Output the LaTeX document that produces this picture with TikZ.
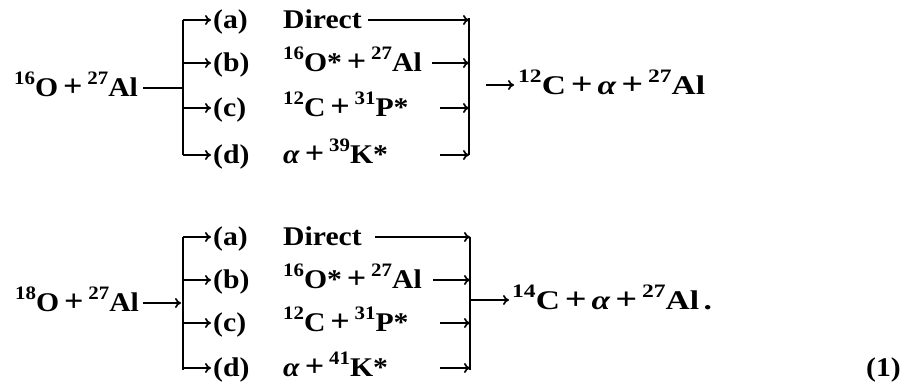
\documentclass[tikz,border=0pt]{standalone}
\usepackage{fontspec}
\setmainfont{Liberation Serif}[FakeStretch=1.1]
\newfontfamily\widefont{Liberation Serif}[FakeStretch=1.24]
\usetikzlibrary{arrows.meta}
\newcommand{\nuc}[2]{\raisebox{0.45em}{\fontsize{19}{19}\selectfont #1}#2}
\newcommand{\pl}{\hspace{0.18em}{\fontsize{31}{31}\selectfont +}\hspace{0.18em}}
\newcommand{\al}{\textit{α}}
\begin{document}
\begin{tikzpicture}[x=1pt,y=-1pt,
  every node/.style={font=\fontsize{27}{30}\selectfont\bfseries, inner sep=0pt, anchor=base west},
  prod/.style={font=\fontsize{27}{30}\selectfont\widefont\bfseries},
  conn/.style={line width=1.7pt},
  arr/.style={line width=1.7pt,-{To[length=6pt,width=10pt,line width=1.7pt]}}]
\useasboundingbox (0,0) rectangle (911,387);
% ---------- upper scheme ----------
\node (l1) at (14,97) {\nuc{16}{O}\pl\nuc{27}{Al}};
\coordinate (j1) at (183,88);
\draw[conn] ([xshift=5pt]l1.east |- j1) -- (j1);
\coordinate (bt1) at (183,20); \coordinate (bb1) at (183,155);
\draw[conn] (bt1) -- (bb1);
\coordinate (rt1) at (469,18); \coordinate (rb1) at (469,155);
\draw[conn] (rt1) -- (rb1);
\foreach \k/\y/\txt/\s in {a/20/{Direct}/368, b/63/{\nuc{16}{O*}\pl\nuc{27}{Al}}/432, c/108/{\nuc{12}{C}\pl\nuc{31}{P*}}/440, d/155/{\al\pl\nuc{39}{K*}}/440}{
  \node (lab\k1) at (213,\y+9) {(\k)};
  \node (txt\k1) at (283,\y+9) {\txt};
  \coordinate (f\k1) at (183,\y);
  \coordinate (e\k1) at (469,\y);
  \coordinate (s\k1) at (\s,\y);
  \draw[arr] (f\k1) -- ([xshift=-2pt]lab\k1.west |- f\k1);
  \draw[arr] (s\k1) -- (e\k1);
}
\node[prod] (p1) at (518,95) {\nuc{12}{C}\pl\al\pl\nuc{27}{Al}};
\coordinate (o1) at (486,85);
\draw[arr] (o1) -- ([xshift=-4pt]p1.west |- o1);
% ---------- lower scheme ----------
\node (l2) at (15,312) {\nuc{18}{O}\pl\nuc{27}{Al}};
\coordinate (j2) at (181,303);
\draw[arr] ([xshift=4pt]l2.east |- j2) -- (j2);
\coordinate (bt2) at (183,237); \coordinate (bb2) at (183,370);
\draw[conn] (bt2) -- (bb2);
\coordinate (rt2) at (470,237); \coordinate (rb2) at (470,370);
\draw[conn] (rt2) -- (rb2);
\foreach \k/\y/\txt/\s in {a/237/{Direct}/375, b/280/{\nuc{16}{O*}\pl\nuc{27}{Al}}/433, c/323/{\nuc{12}{C}\pl\nuc{31}{P*}}/440, d/368/{\al\pl\nuc{41}{K*}}/440}{
  \node (lab\k2) at (213,\y+9) {(\k)};
  \node (txt\k2) at (283,\y+9) {\txt};
  \coordinate (f\k2) at (183,\y);
  \coordinate (e\k2) at (470,\y);
  \coordinate (s\k2) at (\s,\y);
  \draw[arr] (f\k2) -- ([xshift=-2pt]lab\k2.west |- f\k2);
  \draw[arr] (s\k2) -- (e\k2);
}
\coordinate (o2) at (470,300);
\node[prod] (p2) at (512,310) {\nuc{14}{C}\pl\al\pl\nuc{27}{Al}\,.};
\draw[arr] (o2) -- ([xshift=-3pt]p2.west |- o2);
\node (eq) at (866,377) {(1)};
\end{tikzpicture}
\end{document}
